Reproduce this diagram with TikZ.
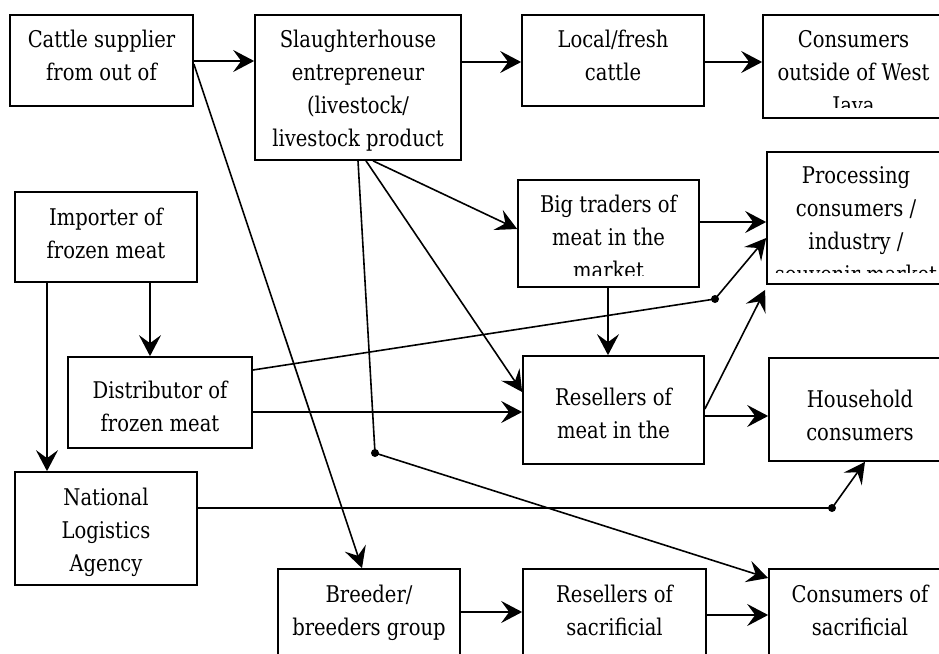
\documentclass[tikz,border=0pt]{standalone}
\usepackage{fontspec}
\setmainfont{DejaVu Serif}[FakeStretch=0.85]
\usetikzlibrary{arrows.meta,calc}
\tikzset{
  box/.style={draw, line width=1.7pt, inner sep=0pt},
  txt/.style={font=\fontsize{23}{33}\selectfont, align=center, inner sep=0pt, anchor=north},
  conn/.style={line width=1.6pt},
  arr/.style={conn, -{Stealth[length=21pt,width=22pt,inset=8pt]}},
  dot/.style={circle, fill, inner sep=0pt, minimum size=8pt}
}
\newcommand\TT{\rule{0pt}{23pt}}
\begin{document}
\begin{tikzpicture}[x=1pt,y=-1pt]
\useasboundingbox (0,0) rectangle (939,653);
\clip (0,0) rectangle (939,653);
% boxes
\node[box, minimum width=183pt, minimum height=91pt] (cattle) at (101.5,60.5) {};
\node[box, minimum width=206pt, minimum height=145pt] (slaughter) at (358,87.5) {};
\node[box, minimum width=182pt, minimum height=91pt] (local) at (613,60.5) {};
\node[box, minimum width=181pt, minimum height=103pt] (conswj) at (853.5,66.5) {};
\node[box, minimum width=178pt, minimum height=132pt] (processing) at (856,218) {};
\node[box, minimum width=182pt, minimum height=90pt] (importer) at (106,237) {};
\node[box, minimum width=181pt, minimum height=107pt] (bigtraders) at (608.5,233.5) {};
\node[box, minimum width=184pt, minimum height=91pt] (distributor) at (160,402.5) {};
\node[box, minimum width=181pt, minimum height=108pt] (resellers) at (613.5,410) {};
\node[box, minimum width=182pt, minimum height=103pt] (household) at (860,409.5) {};
\node[box, minimum width=182pt, minimum height=113pt] (national) at (106,528.5) {};
\node[box, minimum width=182pt, minimum height=101pt] (breeder) at (369,619.5) {};
\node[box, minimum width=183pt, minimum height=101pt] (ressac) at (614.5,619.5) {};
\node[box, minimum width=182pt, minimum height=101pt] (conssac) at (860,619.5) {};
% texts
\node[txt] (t-cattle) at (101.5,24) {\TT Cattle supplier\\from out of};
\node[txt] (t-slaughter) at (358,24) {\TT Slaughterhouse\\entrepreneur\\(livestock/\\livestock product};
\node[txt] (t-local) at (613,24) {\TT Local/fresh\\cattle};
\begin{scope}
\clip (conswj.north west) rectangle ($(conswj.south east)+(0,-11)$);
\node[txt] (t-conswj) at (853.5,24) {\TT Consumers\\outside of West\\Java};
\end{scope}
\begin{scope}
\clip (processing.north west) rectangle ($(processing.south east)+(0,-12)$);
\node[txt] (t-processing) at (856,160) {\TT Processing\\consumers /\\industry /\\souvenir market};
\end{scope}
\node[txt] (t-importer) at (106,202) {\TT Importer of\\frozen meat};
\begin{scope}
\clip (bigtraders.north west) rectangle ($(bigtraders.south east)+(0,-12)$);
\node[txt] (t-bigtraders) at (608.5,189) {\TT Big traders of\\meat in the\\market};
\end{scope}
\node[txt] (t-distributor) at (160,375) {\TT Distributor of\\frozen meat};
\node[txt] (t-resellers) at (613.5,382) {\TT Resellers of\\meat in the};
\node[txt] (t-household) at (860,384) {\TT Household\\consumers};
\node[txt] (t-national) at (106,482) {\TT National\\Logistics\\Agency};
\node[txt] (t-breeder) at (369,579) {\TT Breeder/\\breeders group};
\node[txt] (t-ressac) at (614.5,579) {\TT Resellers of\\sacrificial};
\node[txt] (t-conssac) at (860,579) {\TT Consumers of\\sacrificial};
% junction dots
\node[dot] (d1) at (375,453) {};
\node[dot] (d2) at (715,299) {};
\node[dot] (d3) at (832,508) {};
% connectors
\draw[arr] (cattle.east |- 0,61) -- (slaughter.west |- 0,61);
\draw[arr] (slaughter.east |- 0,62) -- (local.west |- 0,62);
\draw[arr] (local.east |- 0,62) -- (conswj.west |- 0,62);
\draw[arr] (cattle.east |- 0,64) -- (breeder.north -| 362,0);
\draw[arr] (slaughter.south -| 373,0) -- (bigtraders.west |- 0,229);
\draw[arr] (slaughter.south -| 366,0) -- (resellers.west |- 0,392);
\draw[conn] (slaughter.south -| 358,0) -- (d1.center);
\draw[arr] (d1.center) -- (conssac.west |- 0,578);
\draw[arr] (importer.south -| 47,0) -- (national.north -| 47,0);
\draw[arr] (importer.south -| 150,0) -- (distributor.north -| 150,0);
\draw[conn] (distributor.east |- 0,370) -- (d2.center);
\draw[arr] (d2.center) -- (processing.west |- 0,238);
\draw[arr] (distributor.east |- 0,412) -- (resellers.west |- 0,412);
\draw[arr] (bigtraders.east |- 0,222) -- (processing.west |- 0,222);
\draw[arr] (bigtraders.south -| 608,0) -- (resellers.north -| 608,0);
\draw[arr] (resellers.east |- 0,409) -- ($(processing.south west)+(-1,5)$);
\draw[arr] (resellers.east |- 0,416) -- (household.west |- 0,416);
\draw[conn] (national.east |- 0,508) -- (d3.center);
\draw[arr] (d3.center) -- (household.south -| 865,0);
\draw[arr] (breeder.east |- 0,612) -- (ressac.west |- 0,612);
\draw[arr] (ressac.east |- 0,615) -- (conssac.west |- 0,615);
\end{tikzpicture}
\end{document}
